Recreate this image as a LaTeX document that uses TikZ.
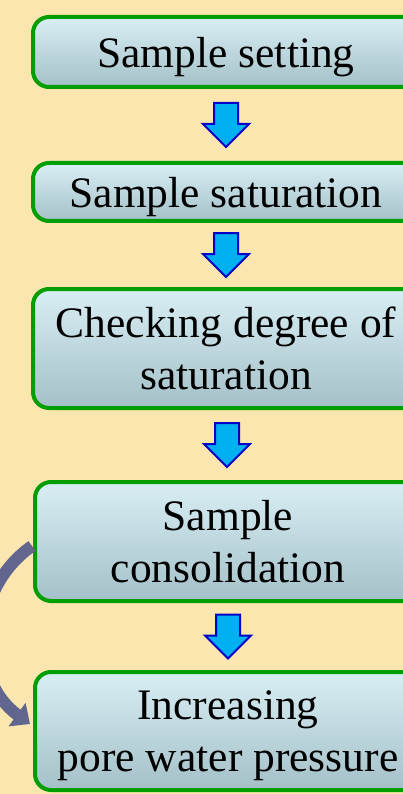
\documentclass[tikz,border=0pt]{standalone}
\usepackage{fontspec}
\setmainfont{Liberation Serif}
\usetikzlibrary{calc, arrows.meta}
\definecolor{paper}{RGB}{252,230,175}
\definecolor{boxgreen}{RGB}{0,158,0}
\definecolor{boxtop}{RGB}{216,238,244}
\definecolor{boxbottom}{RGB}{164,192,200}
\definecolor{arrowfill}{RGB}{0,176,240}
\definecolor{arrowedge}{RGB}{0,0,200}
\definecolor{loopcol}{RGB}{96,102,142}
\tikzset{
    stepbox/.style={draw=boxgreen, line width=4pt, rounded corners=16pt,
        top color=boxtop, bottom color=boxbottom, minimum width=386pt,
        align=center, inner sep=0pt, text depth=-1pt,
        font=\fontsize{43.5}{52}\selectfont},
    downarrow/.pic={
        \draw[arrowedge, fill=arrowfill, line width=2pt, line join=miter]
            (-12,22) -- (12,22) -- (12,1) -- (23,1) -- (0,-22) -- (-23,1) -- (-12,1) -- cycle;},
    looparrow/.style={draw=loopcol, line width=12pt, -{Triangle[width=28pt, length=16pt]}}
}

\begin{document}
\begin{tikzpicture}[x=1pt, y=1pt]

    \useasboundingbox (0,0) rectangle (403,-794);
    \clip (0,0) rectangle (403,-794);
    \fill[paper] (0,0) rectangle (403,-794);

    % process steps
    \node[stepbox, minimum height=70pt] (setting) at (226,-52) {Sample setting};
    \node[stepbox, minimum height=58pt] (saturation) at (226,-192) {Sample saturation};
    \node[stepbox, minimum height=119pt] (checking) at (226,-348.5) {Checking degree of\\saturation};
    \node[stepbox, minimum height=119pt] (consolidation) at (228,-541.5) {Sample\\consolidation};
    \node[stepbox, minimum height=118pt] (pressure) at (228,-731) {Increasing\\pore water pressure};

    % block arrows between steps
    \pic at ($(setting.south)!0.5!(saturation.north)$) {downarrow};
    \pic at ($(saturation.south)!0.5!(checking.north)$) {downarrow};
    \pic at ($(checking.south)!0.5!(consolidation.north)$) {downarrow};
    \pic at ($(consolidation.south)!0.5!(pressure.north)$) {downarrow};

    % loop back on the left
    \draw[looparrow] ([xshift=-1pt, yshift=-4.5pt]consolidation.west)
        to[out=215, in=144, looseness=1.08] ([xshift=-3pt, yshift=7pt]pressure.west);

\end{tikzpicture}
\end{document}
